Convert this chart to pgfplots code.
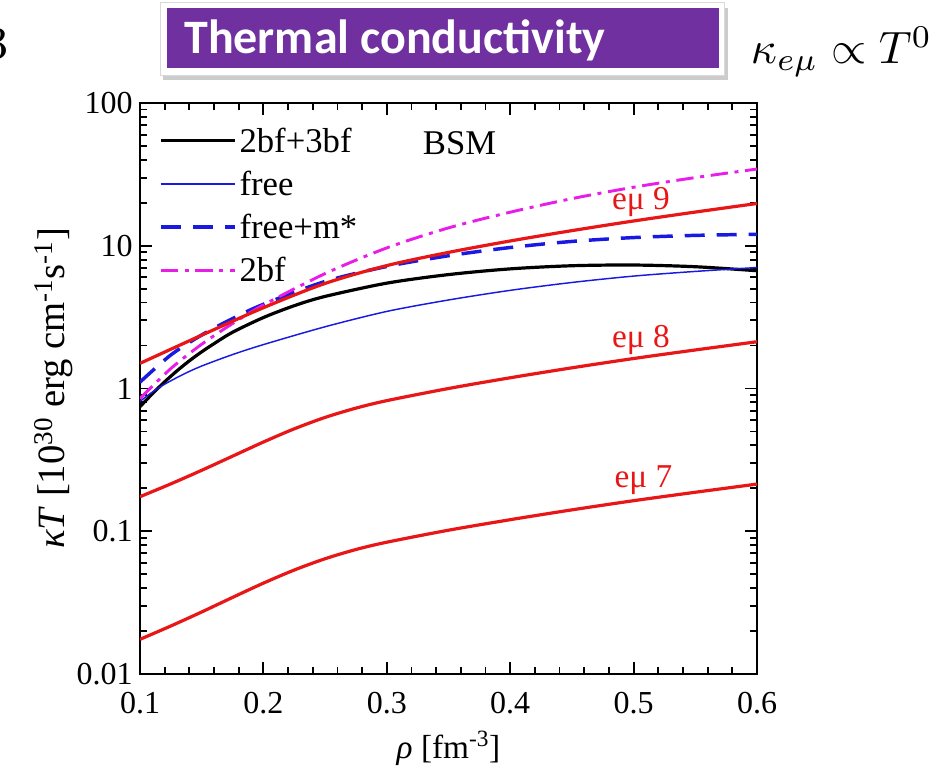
\documentclass[border=0pt]{standalone}
\usepackage{fontspec}
\setmainfont{Liberation Serif}
\newfontfamily\carlito{Carlito}
\usepackage{pgfplots}
\pgfplotsset{compat=1.18}
\definecolor{cred}{RGB}{232,22,22}
\definecolor{cblue}{RGB}{25,25,225}
\definecolor{cmag}{RGB}{232,30,232}
\definecolor{cpurple}{RGB}{112,48,160}
\begin{document}
\begin{tikzpicture}[x=0.75pt,y=0.75pt]
\useasboundingbox (0,0) rectangle (937,774);
% title box
\fill[black!20] (163,774-80) rectangle (728,774-8);
\fill[white] (160,774-75) rectangle (724,774-2);
\draw[black!15, line width=0.6pt] (160,774-75) rectangle (724,774-2);
\fill[cpurple] (167,774-68) rectangle (719,774-8);
\node[anchor=west, text=white, inner sep=0pt] at (184,774-40) {\carlito\bfseries\fontsize{36}{42}\selectfont Thermal conductivity};
\node[anchor=west, inner sep=0pt, scale=3.4] at (750,774-52) {$\kappa_{e\mu}\propto T^0$};
\node[anchor=east, inner sep=0pt, scale=3.4] at (9,774-44) {$3$};
\begin{axis}[
  at={(105pt,75pt)}, anchor=south west,
  scale only axis, width=462.75pt, height=428.25pt,
  xmin=0.1, xmax=0.6, ymode=log, ymin=0.01, ymax=100,
  xtick={0.1,0.2,0.3,0.4,0.5,0.6},
  xticklabels={0.1,0.2,0.3,0.4,0.5,0.6},
  minor x tick num=4,
  ytick={0.01,0.1,1,10,100},
  yticklabels={0.01,0.1,1,10,100},
  minor ytick={0.02,0.03,0.04,0.05,0.06,0.07,0.08,0.09,0.2,0.3,0.4,0.5,0.6,0.7,0.8,0.9,2,3,4,5,6,7,8,9,20,30,40,50,60,70,80,90},
  tick align=inside,
  major tick length=9pt, minor tick length=5pt,
  every tick/.style={black, line width=1.4pt},
  axis line style={line width=1.9pt},
  ticklabel style={font=\fontsize{24}{28}\selectfont},
  xticklabel style={yshift=-10pt},
  yticklabel style={xshift=-2pt},
  xlabel={\textit{ρ} [fm\textsuperscript{-3}]},
  ylabel={\textit{κT} [10\textsuperscript{30} erg cm\textsuperscript{-1}s\textsuperscript{-1}]},
  xlabel style={font=\fontsize{25}{30}\selectfont, yshift=-6pt},
  ylabel style={font=\fontsize{29}{34}\selectfont, yshift=-4pt},
  legend style={at={(0.03,0.962)}, anchor=north west, draw=none, fill=none,
    font=\fontsize{26}{30}\selectfont, row sep=8.5pt, inner sep=0pt},
  legend cell align=left,
  legend image code/.code={\draw[#1] (0pt,0pt) -- (56pt,0pt);},
  clip=true,
]
\addplot[black, line width=2.4pt, smooth] coordinates {(0.1,0.746)(0.11,0.918)(0.12,1.114)(0.13,1.330)(0.14,1.563)(0.15,1.807)(0.16,2.061)(0.175,2.477)(0.2,3.141)(0.225,3.802)(0.25,4.416)(0.3,5.47)(0.35,6.28)(0.4,6.887)(0.45,7.244)(0.5,7.328)(0.55,7.129)(0.6,6.683)};
\addlegendentry{2bf+3bf}
\addplot[cblue, line width=1.1pt, smooth] coordinates {(0.1,0.813)(0.11,0.944)(0.12,1.072)(0.135,1.256)(0.15,1.437)(0.175,1.728)(0.2,2.03)(0.25,2.707)(0.3,3.467)(0.35,4.169)(0.4,4.87)(0.45,5.53)(0.5,6.13)(0.55,6.61)(0.6,7.04)};
\addlegendentry{free}
\addplot[cblue, line width=2.6pt, dash pattern=on 15pt off 9pt, smooth] coordinates {(0.1,1.109)(0.125,1.718)(0.15,2.371)(0.175,3.09)(0.2,3.89)(0.25,5.62)(0.3,7.16)(0.35,8.51)(0.4,9.72)(0.45,10.72)(0.5,11.41)(0.55,11.82)(0.6,12.02)};
\addlegendentry{free+m*}
\addplot[cmag, line width=2.2pt, dash pattern=on 13pt off 5pt on 3pt off 5pt, smooth] coordinates {(0.1,0.851)(0.125,1.380)(0.15,2.042)(0.175,2.851)(0.2,3.846)(0.25,6.383)(0.3,9.66)(0.35,13.34)(0.4,17.18)(0.45,21.38)(0.5,25.70)(0.55,30.03)(0.6,34.47)};
\addlegendentry{2bf}
\addplot[cred, line width=2.4pt, smooth, forget plot] coordinates {(0.1,1.50)(0.15,2.363)(0.2,3.681)(0.25,5.445)(0.3,7.261)(0.35,8.984)(0.4,10.80)(0.45,12.76)(0.5,14.91)(0.55,17.22)(0.6,19.77)};
\addplot[cred, line width=2.4pt, smooth, forget plot] coordinates {(0.1,0.1746)(0.125,0.2148)(0.15,0.2673)(0.175,0.3357)(0.2,0.4217)(0.225,0.5218)(0.25,0.6273)(0.275,0.7288)(0.3,0.8222)(0.35,1.0)(0.4,1.189)(0.45,1.396)(0.5,1.622)(0.55,1.862)(0.6,2.126)};
\addplot[cred, line width=2.4pt, smooth, forget plot] coordinates {(0.1,0.0175)(0.125,0.0217)(0.15,0.0272)(0.175,0.0344)(0.2,0.0433)(0.225,0.0535)(0.25,0.0642)(0.275,0.0745)(0.3,0.0838)(0.35,0.1017)(0.4,0.1205)(0.45,0.1412)(0.5,0.1637)(0.55,0.1876)(0.6,0.214)};
\node[text=cred, font=\fontsize{25}{30}\selectfont] at (axis cs:0.506,20.3) {eμ 9};
\node[text=cred, font=\fontsize{25}{30}\selectfont] at (axis cs:0.506,2.19) {eμ 8};
\node[text=cred, font=\fontsize{25}{30}\selectfont] at (axis cs:0.508,0.229) {eμ 7};
\node[font=\fontsize{26}{30}\selectfont] at (axis cs:0.359,52.5) {BSM};
\end{axis}
\end{tikzpicture}
\end{document}
